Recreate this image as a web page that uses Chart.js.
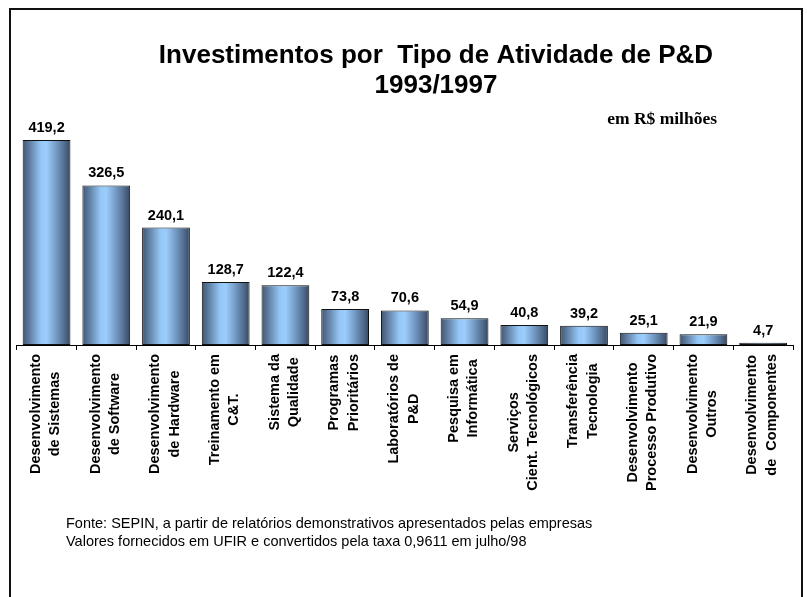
<!DOCTYPE html>
<html>
<head>
<meta charset="utf-8">
<script src="https://cdn.jsdelivr.net/npm/chart.js@4"></script>
<style>
html,body{margin:0;padding:0;background:#fff;}
#wrap{width:807px;height:597px;position:relative;}
</style>
</head>
<body>
<div id="wrap"><canvas id="c" width="807" height="597"></canvas></div>
<script>
// ---- data ----
const categories = [
  ["Desenvolvimento", "de Sistemas"],
  ["Desenvolvimento", "de Software"],
  ["Desenvolvimento", "de Hardware"],
  ["Treinamento em", "C&T."],
  ["Sistema da", "Qualidade"],
  ["Programas", "Prioritários"],
  ["Laboratórios de", "P&D"],
  ["Pesquisa em", "Informática"],
  ["Serviços", "Cient. Tecnológicos"],
  ["Transferência", "Tecnologia"],
  ["Desenvolvimento", "Processo Produtivo"],
  ["Desenvolvimento", "Outros"],
  ["Desenvolvimento", "de  Componentes"]
];
const values = [419.2, 326.5, 240.1, 128.7, 122.4, 73.8, 70.6, 54.9, 40.8, 39.2, 25.1, 21.9, 4.7];
const titleLines = ["Investimentos por  Tipo de Atividade de P&D", "1993/1997"];
const unitNote = "em R$ milhões";
const sourceNotes = [
  "Fonte: SEPIN, a partir de relatórios demonstrativos apresentados pelas empresas",
  "Valores fornecidos em UFIR e convertidos pela taxa 0,9611 em julho/98"
];

const BAR_PCT = 0.8;
const SANS = '"Liberation Sans", Arial, sans-serif';

function fmt(v) { return v.toFixed(1).replace('.', ','); }

function barGradient(c) {
  const ch = c.chart;
  const xs = ch.scales && ch.scales.x;
  if (!xs || c.dataIndex === undefined || !isFinite(xs.width)) return '#99ccff';
  const bw = xs.width / categories.length * BAR_PCT;
  const cx = xs.getPixelForValue(c.dataIndex);
  const g = ch.ctx.createLinearGradient(cx - bw / 2, 0, cx + bw / 2, 0);
  g.addColorStop(0.00, '#3f5673');
  g.addColorStop(0.12, '#5a7799');
  g.addColorStop(0.38, '#94c6f6');
  g.addColorStop(0.50, '#9ccdfc');
  g.addColorStop(0.72, '#7096c0');
  g.addColorStop(0.90, '#4d6585');
  g.addColorStop(1.00, '#37475d');
  return g;
}

const deco = {
  id: 'deco',
  beforeDraw(chart) {
    const ctx = chart.ctx;
    ctx.save();
    ctx.fillStyle = '#fff';
    ctx.fillRect(0, 0, chart.width, chart.height);
    ctx.restore();
  },
  afterDraw(chart) {
    const ctx = chart.ctx;
    ctx.save();
    // outer frame
    ctx.strokeStyle = '#111';
    ctx.lineWidth = 2;
    ctx.strokeRect(10, 9, 792, 620);

    // title
    ctx.fillStyle = '#000';
    ctx.textAlign = 'center';
    ctx.textBaseline = 'alphabetic';
    ctx.font = 'bold 26px ' + SANS;
    ctx.fillText(titleLines[0], 436, 63);
    ctx.fillText(titleLines[1], 436, 93);

    // unit note
    ctx.font = 'bold 17.5px "Liberation Serif", "Times New Roman", serif';
    ctx.textAlign = 'right';
    ctx.fillText(unitNote, 717, 124);

    // value labels
    const meta = chart.getDatasetMeta(0);
    ctx.font = 'bold 14.5px ' + SANS;
    ctx.textAlign = 'center';
    meta.data.forEach((el, i) => {
      ctx.fillText(fmt(values[i]), el.x, el.y - 8);
    });

    // category labels (rotated, lines centred, block starting at axis)
    const xs = chart.scales.x;
    const top = xs.top + 9;
    const lh = 19.5;
    ctx.font = 'bold 14.5px ' + SANS;
    categories.forEach((lines, i) => {
      const cx = xs.getPixelForTick(i) - 1;
      const W = Math.max(...lines.map(l => ctx.measureText(l).width));
      const n = lines.length;
      lines.forEach((line, j) => {
        ctx.save();
        ctx.translate(cx + (j - (n - 1) / 2) * lh, top);
        ctx.rotate(-Math.PI / 2);
        ctx.textAlign = 'center';
        ctx.textBaseline = 'middle';
        ctx.fillText(line, -W / 2, 0);
        ctx.restore();
      });
    });

    // source notes
    ctx.font = '14.5px ' + SANS;
    ctx.textAlign = 'left';
    ctx.textBaseline = 'alphabetic';
    ctx.fillText(sourceNotes[0], 66, 528);
    ctx.fillText(sourceNotes[1], 66, 546);
    ctx.restore();
  }
};

new Chart(document.getElementById('c'), {
  type: 'bar',
  data: {
    labels: categories,
    datasets: [{
      data: values,
      backgroundColor: barGradient,
      borderColor: '#111',
      borderWidth: 1,
      borderSkipped: false,
      barPercentage: BAR_PCT,
      categoryPercentage: 1
    }]
  },
  options: {
    responsive: false,
    animation: false,
    devicePixelRatio: 1,
    layout: { padding: { left: 16.7, right: 14, top: 125, bottom: 242 } },
    plugins: {
      legend: { display: false },
      title: { display: false },
      tooltip: { enabled: false }
    },
    scales: {
      x: {
        offset: true,
        grid: {
          display: true,
          offset: true,
          drawOnChartArea: false,
          drawTicks: true,
          tickLength: 5,
          color: '#000',
          lineWidth: 1
        },
        border: { display: true, color: '#000', width: 1 },
        ticks: { display: false, autoSkip: false },
        afterFit(s) { s.height = 10; }
      },
      y: {
        display: false,
        min: 0,
        max: 450
      }
    }
  },
  plugins: [deco]
});
</script>
</body>
</html>
